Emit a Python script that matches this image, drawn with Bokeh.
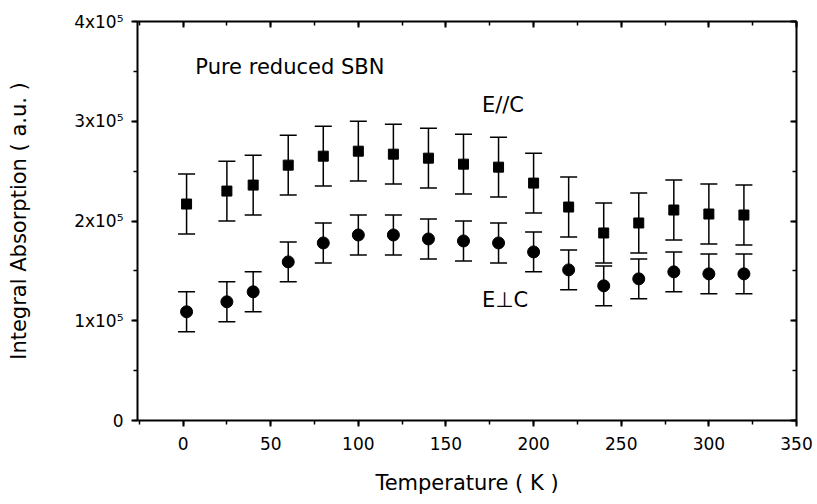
from bokeh.plotting import figure
from bokeh.models import (ColumnDataSource, Whisker, TeeHead, LinearAxis, SingleIntervalTicker,
                          Label, Range1d)
from bokeh.embed import file_html
from bokeh.resources import INLINE

# ---- data ----
temperature = [2, 25, 40, 60, 80, 100, 120, 140, 160, 180, 200, 220, 240, 260, 280, 300, 320]
e_par_c = [2.17e5, 2.30e5, 2.36e5, 2.56e5, 2.65e5, 2.70e5, 2.67e5, 2.63e5, 2.57e5,
           2.54e5, 2.38e5, 2.14e5, 1.88e5, 1.98e5, 2.11e5, 2.07e5, 2.06e5]
e_par_c_err = [0.30e5] * 17
e_perp_c = [1.09e5, 1.19e5, 1.29e5, 1.59e5, 1.78e5, 1.86e5, 1.86e5, 1.82e5, 1.80e5,
            1.78e5, 1.69e5, 1.51e5, 1.35e5, 1.42e5, 1.49e5, 1.47e5, 1.47e5]
e_perp_c_err = [0.20e5] * 17

y_tick_values = [0, 100000, 200000, 300000, 400000]
y_tick_labels = ["0", "1x10⁵", "2x10⁵", "3x10⁵", "4x10⁵"]

FONT = "DejaVu Sans"

src_par = ColumnDataSource(dict(
    x=temperature, y=e_par_c,
    upper=[v + e for v, e in zip(e_par_c, e_par_c_err)],
    lower=[v - e for v, e in zip(e_par_c, e_par_c_err)]))
src_perp = ColumnDataSource(dict(
    x=temperature, y=e_perp_c,
    upper=[v + e for v, e in zip(e_perp_c, e_perp_c_err)],
    lower=[v - e for v, e in zip(e_perp_c, e_perp_c_err)]))

p = figure(width=817, height=504, output_backend="svg", toolbar_location=None,
           x_range=Range1d(-26, 350), y_range=Range1d(0, 400000),
           min_border_left=137, min_border_right=21, min_border_top=21, min_border_bottom=84)
p.xgrid.visible = False
p.ygrid.visible = False
p.outline_line_color = None
p.background_fill_color = "white"
p.border_fill_color = "white"

xt = SingleIntervalTicker(interval=50, num_minor_ticks=2)
yt = SingleIntervalTicker(interval=100000, num_minor_ticks=2)

xa = p.xaxis[0]
xa.ticker = xt
ya = p.yaxis[0]
ya.ticker = yt
ya.major_label_overrides = {v: t for v, t in zip(y_tick_values, y_tick_labels)}

for ax in (xa, ya):
    ax.axis_line_width = 2
    ax.axis_line_color = "black"
    ax.major_tick_line_width = 2
    ax.minor_tick_line_width = 1.5
    ax.major_tick_out = 6
    ax.major_tick_in = 0
    ax.minor_tick_out = 4
    ax.minor_tick_in = 0
    ax.major_label_text_font = FONT
    ax.major_label_text_font_size = "17px"
    ax.major_label_text_color = "black"
    ax.axis_label_text_font = FONT
    ax.axis_label_text_font_size = "21px"
    ax.axis_label_text_font_style = "normal"
    ax.axis_label_text_color = "black"

xa.axis_label = "Temperature ( K )"
xa.major_label_standoff = 10
xa.axis_label_standoff = 18
ya.axis_label = "Integral Absorption ( a.u. )"
ya.major_label_standoff = 8
ya.axis_label_standoff = 40

top = LinearAxis(ticker=SingleIntervalTicker(interval=50, num_minor_ticks=2))
right = LinearAxis(ticker=SingleIntervalTicker(interval=100000, num_minor_ticks=2))
for ax in (top, right):
    ax.axis_line_width = 2
    ax.axis_line_color = "black"
    ax.major_tick_line_width = 2
    ax.minor_tick_line_width = 1.5
    ax.major_tick_in = 6
    ax.major_tick_out = 0
    ax.minor_tick_in = 4
    ax.minor_tick_out = 0
    ax.major_label_text_font_size = "0px"
    ax.major_label_text_color = None
p.add_layout(top, "above")
p.add_layout(right, "right")

for src in (src_par, src_perp):
    w = Whisker(source=src, base="x", upper="upper", lower="lower",
                line_color="black", line_width=1.5,
                upper_head=TeeHead(size=17, line_width=1.5, line_color="black"),
                lower_head=TeeHead(size=17, line_width=1.5, line_color="black"))
    p.add_layout(w)

p.scatter("x", "y", source=src_par, marker="square", size=10, color="black")
p.scatter("x", "y", source=src_perp, marker="circle", size=12, color="black")

for txt, x, y in [("Pure reduced SBN", 7, 3.54e5), ("E//C", 170.5, 3.16e5), ("E⊥C", 170.5, 1.21e5)]:
    p.add_layout(Label(x=x, y=y, text=txt, text_font=FONT, text_font_size="21px",
                       text_baseline="middle", text_align="left", text_color="black"))

open("out.html", "w").write(file_html(p, INLINE))
